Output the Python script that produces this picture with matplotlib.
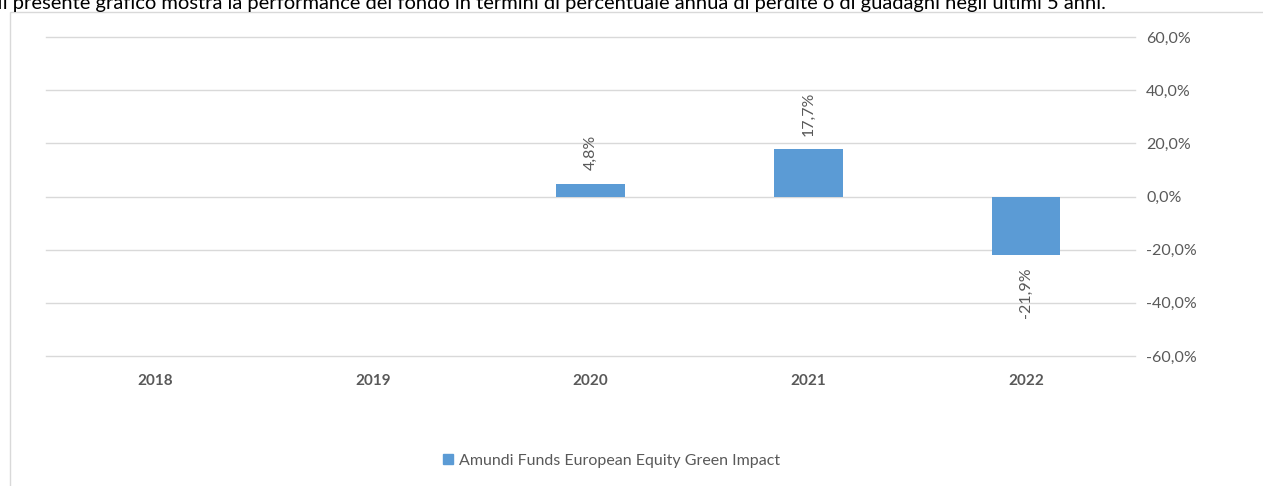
import matplotlib
matplotlib.use("Agg")
import matplotlib.pyplot as plt
from matplotlib.patches import Rectangle

years = ["2018", "2019", "2020", "2021", "2022"]
returns = [None, None, 4.8, 17.7, -21.9]
series_name = "Amundi Funds European Equity Green Impact"
yticks = [60, 40, 20, 0, -20, -40, -60]
caption = ("Il presente grafico mostra la performance del fondo in termini di percentuale "
           "annua di perdite o di guadagni negli ultimi 5 anni.")

bar_color = "#5B9BD5"
text_color = "#595959"
grid_color = "#D9D9D9"

plt.rcParams["font.family"] = ["Lato", "DejaVu Sans"]

fig = plt.figure(figsize=(12.63, 4.86), dpi=100)
W, H = 1263, 486

# outer chart frame
fig.patches.append(Rectangle((10 / W, -0.2), 1.2, 1 - 12 / H + 0.2,
                             transform=fig.transFigure, fill=False,
                             edgecolor=grid_color, linewidth=1.0))

fig.text(-0.002, 1 - 4 / H, caption, fontsize=14.5, color="black",
         ha="left", va="center")

ax = fig.add_axes([46 / W, 1 - 356 / H, (1135 - 46) / W, (356 - 37) / H])

x = list(range(len(years)))
vals = [v if v is not None else 0 for v in returns]
bars = ax.bar(x, vals, width=0.315, color=bar_color, zorder=3)
for i, b in enumerate(bars):
    if returns[i] is None:
        b.set_visible(False)

for i, v in enumerate(returns):
    if v is None:
        continue
    lab = f"{v:.1f}%".replace(".", ",")
    if v >= 0:
        ax.annotate(lab, (i, v), xytext=(0, 10), textcoords="offset points",
                    rotation=90, ha="center", va="bottom", fontsize=11.5,
                    color=text_color)
    else:
        ax.annotate(lab, (i, v), xytext=(0, -9), textcoords="offset points",
                    rotation=90, ha="center", va="top", fontsize=11.5,
                    color=text_color)

ax.set_ylim(-60, 60)
ax.set_xlim(-0.5, len(years) - 0.5)
ax.set_yticks(yticks)
ax.set_yticklabels([f"{t:.1f}%".replace(".", ",") for t in yticks])
ax.yaxis.tick_right()
ax.tick_params(axis="y", length=0, pad=8, labelsize=11.5, labelcolor=text_color)
ax.set_xticks([])
for t in yticks:
    ax.axhline(t, color=grid_color, linewidth=1.0, zorder=0, clip_on=False)
for s in ax.spines.values():
    s.set_visible(False)

for i, yr in enumerate(years):
    ax.annotate(yr, (i, -60), xytext=(0, -18), textcoords="offset points",
                ha="center", va="center", fontsize=11, fontweight="bold",
                color=text_color)

handle = Rectangle((0, 0), 1, 1, color=bar_color)
fig.legend(handles=[handle], labels=[series_name], loc="center",
           bbox_to_anchor=(612 / W, 1 - 461 / H), frameon=False,
           fontsize=11.5, labelcolor=text_color, handlelength=0.6,
           handleheight=0.6, handletextpad=0.4)

fig.savefig("out.png", dpi=100, facecolor="white")
